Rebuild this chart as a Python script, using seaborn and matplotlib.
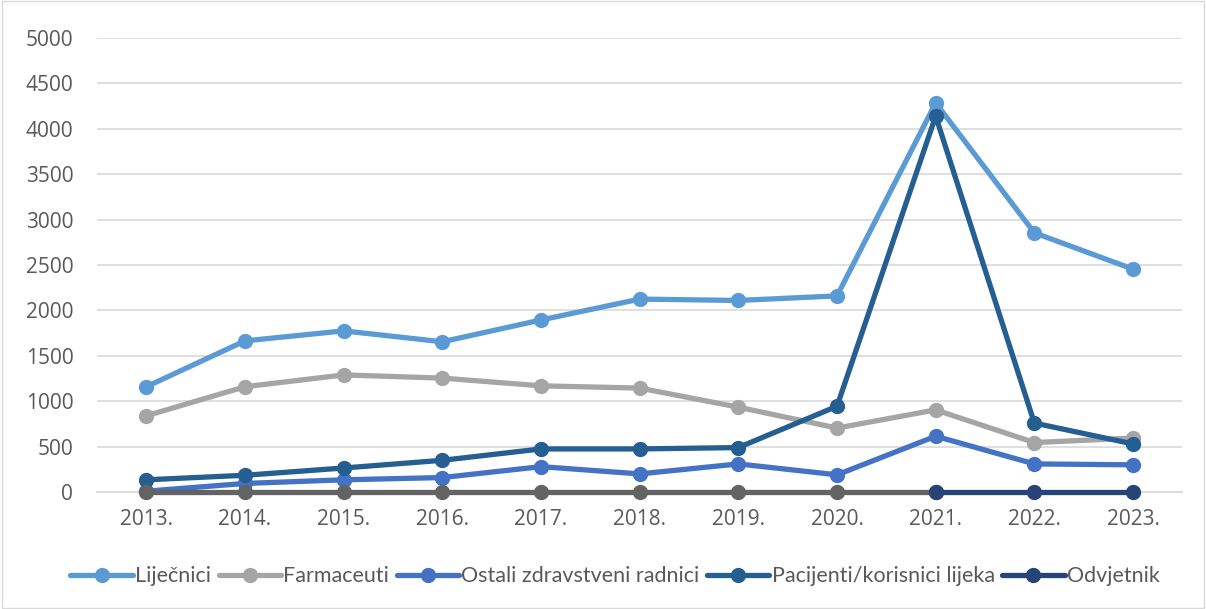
import pandas as pd
import numpy as np
import matplotlib.pyplot as plt
import seaborn as sns
from matplotlib.lines import Line2D
from matplotlib.patches import Rectangle

years = ['2013.', '2014.', '2015.', '2016.', '2017.', '2018.', '2019.', '2020.', '2021.', '2022.', '2023.']
lijecnici = [1160, 1665, 1775, 1655, 1895, 2125, 2110, 2160, 4285, 2855, 2455]
farmaceuti = [840, 1160, 1290, 1255, 1170, 1145, 935, 705, 905, 545, 595]
ostali = [10, 95, 135, 160, 280, 200, 310, 190, 615, 310, 300]
pacijenti = [135, 185, 265, 350, 475, 475, 490, 945, 4140, 760, 530]
odvjetnik = [0, 0, 0, 0, 0, 0, 0, 0, 0, 0, 0]

series = {
    'Liječnici': lijecnici,
    'Farmaceuti': farmaceuti,
    'Ostali zdravstveni radnici': ostali,
    'Pacijenti/korisnici lijeka': pacijenti,
    'Odvjetnik': odvjetnik,
}
colors = {
    'Liječnici': '#5B9BD5',
    'Farmaceuti': '#A5A5A5',
    'Ostali zdravstveni radnici': '#4472C4',
    'Pacijenti/korisnici lijeka': '#255E91',
    'Odvjetnik': '#264478',
}

sns.set_theme(style="white")
plt.rcParams['font.family'] = ['Open Sans', 'DejaVu Sans']

df = pd.DataFrame(series)
df['Year'] = years
df['x'] = np.arange(len(years))

fig = plt.figure(figsize=(12.06, 6.09), dpi=100)
ax = fig.add_axes([0.0804, 0.192, 0.9, 0.7456])

lw = 3.8
ms = 11

# Odvjetnik is grey up to 2021, navy afterwards
odv = df[['x', 'Odvjetnik']]
sns.lineplot(data=odv[odv['x'] <= 8], x='x', y='Odvjetnik', ax=ax, color='#636363',
             linewidth=lw, marker='o', markersize=ms, markeredgewidth=0, zorder=4, clip_on=False)
sns.lineplot(data=odv[odv['x'] >= 8], x='x', y='Odvjetnik', ax=ax, color=colors['Odvjetnik'],
             linewidth=lw, marker='o', markersize=ms, markeredgewidth=0, zorder=4, clip_on=False)

for name in ['Liječnici', 'Farmaceuti', 'Ostali zdravstveni radnici', 'Pacijenti/korisnici lijeka']:
    sns.lineplot(data=df, x='x', y=name, ax=ax, color=colors[name], linewidth=lw,
                 marker='o', markersize=ms, markeredgewidth=0, zorder=3, clip_on=False)

ax.set_xlim(-0.5, len(years) - 0.5)
ax.set_ylim(0, 5000)
ax.set_yticks(np.arange(0, 5001, 500))
ax.set_xticks(df['x'])
ax.set_xticklabels(years)
ax.set_xlabel('')
ax.set_ylabel('')
ax.yaxis.grid(True, color='#D9D9D9', linewidth=1.2)
ax.set_axisbelow(True)
for s in ['top', 'right', 'left']:
    ax.spines[s].set_visible(False)
ax.spines['bottom'].set_color('#D9D9D9')
ax.spines['bottom'].set_linewidth(1.2)
ax.tick_params(axis='both', length=0, labelsize=15, colors='#595959')
ax.tick_params(axis='x', pad=12)
ax.tick_params(axis='y', pad=17)

handles = [Line2D([0], [0], color=colors[n], linewidth=lw, marker='o', markersize=ms,
                  markeredgewidth=0) for n in series]
leg = fig.legend(handles, list(series.keys()), loc='center', bbox_to_anchor=(0.51, 0.054),
                 ncol=5, frameon=False, handlelength=2.9, handletextpad=0.1,
                 columnspacing=0.35, labelcolor='#595959',
                 prop={'family': ['Lato', 'DejaVu Sans'], 'size': 15.5})

fig.patches.append(Rectangle((0.002, 0.002), 0.996, 0.996, transform=fig.transFigure,
                             fill=False, edgecolor='#D9D9D9', linewidth=1))

plt.savefig("out.png", dpi=100)
